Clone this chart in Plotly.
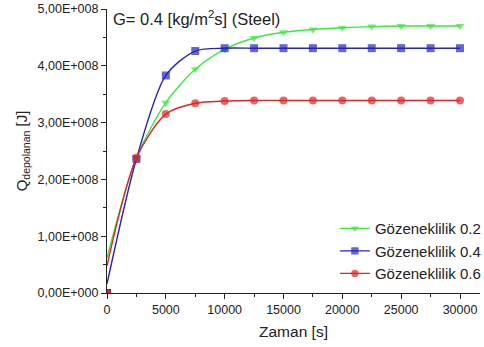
import plotly.graph_objects as go

# Time steps [s]
zaman = [0, 2500, 5000, 7500, 10000, 12500, 15000, 17500, 20000, 22500, 25000, 27500, 30000]

# Stored heat Q_depolanan [J] for each porosity
q_02 = [0, 2.38e8, 3.35e8, 3.94e8, 4.29e8, 4.49e8, 4.59e8, 4.64e8, 4.67e8, 4.69e8, 4.70e8, 4.70e8, 4.70e8]
q_04 = [0, 2.36e8, 3.83e8, 4.26e8, 4.31e8, 4.31e8, 4.31e8, 4.31e8, 4.31e8, 4.31e8, 4.31e8, 4.31e8, 4.31e8]
q_06 = [0, 2.38e8, 3.15e8, 3.34e8, 3.38e8, 3.39e8, 3.39e8, 3.39e8, 3.39e8, 3.39e8, 3.39e8, 3.39e8, 3.39e8]

# Where the smoothed curves meet the y axis
curve_start = {"0.2": 0.62e8, "0.4": 0.16e8, "0.6": 0.48e8}

y_ticks = [0, 1e8, 2e8, 3e8, 4e8, 5e8]
y_ticktext = ["0,00E+000", "1,00E+008", "2,00E+008", "3,00E+008", "4,00E+008", "5,00E+008"]
x_ticks = [0, 5000, 10000, 15000, 20000, 25000, 30000]
x_ticktext = ["0", "5000", "10000", "15000", "20000", "25000", "30000"]

series = [
    ("Gözeneklilik 0.2", "0.2", q_02, "#3de83d", "triangle-down"),
    ("Gözeneklilik 0.4", "0.4", q_04, "#2424c0", "square"),
    ("Gözeneklilik 0.6", "0.6", q_06, "#e02424", "circle"),
]

fig = go.Figure()
for name, key, vals, color, sym in series:
    ys = [curve_start[key]] + vals[1:]
    sizes = [0] + [8] * (len(vals) - 1)
    fig.add_trace(go.Scatter(
        x=zaman, y=ys, mode="lines+markers", name=name,
        line=dict(color=color, width=1.4, shape="spline", smoothing=0.8),
        marker=dict(color=color, symbol=sym, size=sizes, line=dict(width=0)),
    ))
for name, key, vals, color, sym in series:
    fig.add_trace(go.Scatter(
        x=zaman[:1], y=vals[:1], mode="markers", showlegend=False,
        marker=dict(color=color, symbol=sym, size=8, line=dict(width=0)),
    ))

font = "Liberation Sans, Arial, sans-serif"
fig.update_layout(
    width=484, height=347,
    margin=dict(l=107, r=4, t=9, b=54, autoexpand=False),
    paper_bgcolor="white", plot_bgcolor="white",
    font=dict(family=font, color="#222", size=12),
    showlegend=True,
    legend=dict(x=0.611, xanchor="left", y=0.01, yanchor="bottom",
                bgcolor="rgba(0,0,0,0)", font=dict(size=15, family=font),
                itemwidth=30, tracegroupgap=0),
    xaxis=dict(range=[0, 31700], tickvals=x_ticks, ticktext=x_ticktext,
               showgrid=False, zeroline=False,
               showline=True, linecolor="#222", linewidth=1.2,
               ticks="outside", ticklen=5, tickcolor="#222",
               minor=dict(ticks="outside", dtick=2500, ticklen=3, tickcolor="#222"),
               tickfont=dict(size=12.5),
               title=dict(text="Zaman [s]", font=dict(size=15.5), standoff=10)),
    yaxis=dict(range=[0, 5e8], tickvals=y_ticks, ticktext=y_ticktext, showgrid=False,
               zeroline=False, showline=True, linecolor="#222", linewidth=1.2,
               ticks="outside", ticklen=5, tickcolor="#222",
               minor=dict(ticks="outside", dtick=0.5e8, ticklen=3, tickcolor="#222"),
               tickfont=dict(size=12.5),
               title=dict(text="Q<sub>depolanan</sub> [J]", font=dict(size=15), standoff=6)),
    annotations=[dict(text="G= 0.4 [kg/m<sup>2</sup>s] (Steel)", xref="paper", yref="paper",
                      x=0.012, y=1.012, xanchor="left", yanchor="top", showarrow=False,
                      font=dict(size=16.5, family=font))],
)

fig.write_html("out.html")
